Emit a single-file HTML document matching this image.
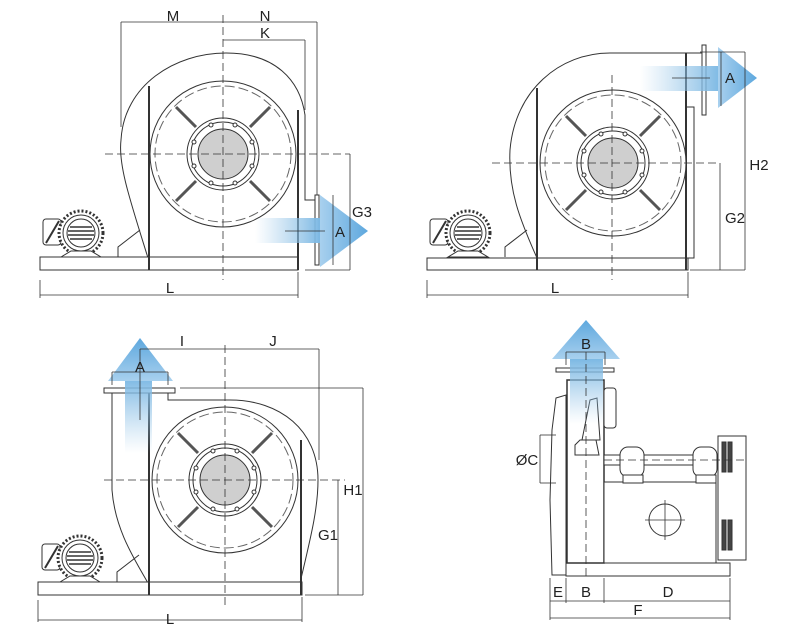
<!DOCTYPE html>
<html><head><style>
html,body{margin:0;padding:0;background:#fff;}
svg{display:block;font-family:"Liberation Sans",sans-serif;}
text{font-size:15px;fill:#222;text-anchor:middle;}
</style></head><body>
<svg width="788" height="636" viewBox="0 0 788 636" xmlns="http://www.w3.org/2000/svg">
<defs>
<linearGradient id="gh" x1="0" x2="1" y1="0" y2="0"><stop offset="0" stop-color="#9cc8e8" stop-opacity="0"/><stop offset="1" stop-color="#7db9e4"/></linearGradient>
<linearGradient id="gv" x1="0" x2="0" y1="1" y2="0"><stop offset="0" stop-color="#9cc8e8" stop-opacity="0"/><stop offset="1" stop-color="#7db9e4"/></linearGradient>
<linearGradient id="ah" x1="0" x2="1" y1="0" y2="0"><stop offset="0" stop-color="#a8d0ee"/><stop offset="1" stop-color="#5ea8de"/></linearGradient>
<linearGradient id="av" x1="0" x2="0" y1="1" y2="0"><stop offset="0" stop-color="#a8d0ee"/><stop offset="1" stop-color="#5ea8de"/></linearGradient>
<g id="imp" fill="none" stroke="#333" stroke-width="1">
<circle r="73" fill="#fff"/>
<circle r="68" stroke-dasharray="10,4" stroke="#666"/>
<g stroke="#555" stroke-width="3"><line x1="-27" y1="-27" x2="-47" y2="-47"/><line x1="27" y1="-27" x2="47" y2="-47"/><line x1="-27" y1="27" x2="-47" y2="47"/><line x1="27" y1="27" x2="47" y2="47"/></g>
<circle r="36" fill="#fff"/>
<circle r="32"/>
<circle r="25" fill="#cfcfcf"/>
<g fill="#fff"><circle cx="12" cy="-29" r="2"/><circle cx="-12" cy="-29" r="2"/><circle cx="12" cy="29" r="2"/><circle cx="-12" cy="29" r="2"/><circle cx="29" cy="12" r="2"/><circle cx="29" cy="-12" r="2"/><circle cx="-29" cy="12" r="2"/><circle cx="-29" cy="-12" r="2"/></g>
</g>
<g id="motor" fill="#fff" stroke="#333" stroke-width="1">
<rect x="0" y="-14" width="18" height="26" rx="3"/>
<line x1="3" y1="10" x2="16" y2="-12" stroke-width="2"/>
<circle cx="38" cy="0" r="22" stroke-dasharray="2,2" stroke-width="3"/>
<circle cx="38" cy="0" r="18"/>
<circle cx="38" cy="0" r="14"/>
<g stroke-width="1.5"><line x1="27" y1="-6" x2="49" y2="-6"/><line x1="25" y1="-2" x2="51" y2="-2"/><line x1="25" y1="2" x2="51" y2="2"/><line x1="27" y1="6" x2="49" y2="6"/></g>
<path d="M18,24 L28,18 L48,18 L58,24 Z"/>
</g>
</defs>

<g fill="none" stroke="#333" stroke-width="1">
<path d="M148,258 C130,200 118,165 121,140 C124,85 175,53 226,53 C275,53 300,80 305,115 L305,200 L315,200" fill="#fff"/>
<rect x="40" y="257" width="258" height="13" fill="#fff"/>
<line x1="149" y1="86" x2="149" y2="270" stroke-width="2"/>
<line x1="298" y1="110" x2="298" y2="270" stroke-width="2"/>
<path d="M118,257 L118,247 L140,230"/>
<rect x="315" y="195" width="4" height="70" fill="#fff"/>
</g>
<use href="#imp" x="223" y="154"/>
<use href="#motor" x="43" y="233"/>
<rect x="255" y="218" width="65" height="25" fill="url(#gh)"/>
<polygon points="320,195 368,231 320,267" fill="url(#ah)"/>
<g stroke="#333" stroke-width="0.8" fill="none">
<line x1="223" y1="15" x2="223" y2="280" stroke-dasharray="8,4"/>
<line x1="105" y1="154" x2="350" y2="154" stroke-dasharray="8,4"/>
<line x1="121" y1="22" x2="317" y2="22"/><line x1="121" y1="22" x2="121" y2="127"/>
<line x1="223" y1="40" x2="305" y2="40"/><line x1="305" y1="40" x2="305" y2="110"/>
<line x1="317" y1="22" x2="317" y2="195"/>
<line x1="350" y1="154" x2="350" y2="270"/><line x1="305" y1="270" x2="350" y2="270"/>
<line x1="333" y1="195" x2="333" y2="265"/>
<line x1="40" y1="295" x2="298" y2="295"/><line x1="40" y1="280" x2="40" y2="298"/><line x1="298" y1="272" x2="298" y2="298"/>
<line x1="285" y1="231" x2="325" y2="231"/>
</g>
<text x="173" y="21">M</text><text x="265" y="21">N</text><text x="265" y="38">K</text>
<text x="362" y="217">G3</text><text x="340" y="237">A</text><text x="170" y="293">L</text>

<g fill="none" stroke="#333" stroke-width="1">
<path d="M537,258 C520,220 508,190 510,150 C515,90 560,53 610,53 L686,53 L686,258" fill="#fff"/>
<path d="M686,53 L702,53 M686,107 L694,107 L694,258 L686,258"/>
<rect x="427" y="258" width="261" height="12" fill="#fff"/>
<line x1="537" y1="88" x2="537" y2="270" stroke-width="2"/>
<line x1="686" y1="53" x2="686" y2="270" stroke-width="2"/>
<path d="M505,257 L505,247 L527,230"/>
<rect x="702" y="45" width="4" height="70" fill="#fff"/>
</g>
<use href="#imp" x="613" y="163"/>
<use href="#motor" x="430" y="233"/>
<rect x="640" y="66" width="80" height="25" fill="url(#gh)"/>
<polygon points="718,47 757,78 718,108" fill="url(#ah)"/>
<g stroke="#333" stroke-width="0.8" fill="none">
<line x1="612" y1="75" x2="612" y2="280" stroke-dasharray="8,4"/>
<line x1="492" y1="163" x2="720" y2="163" stroke-dasharray="8,4"/>
<line x1="745" y1="52" x2="745" y2="270"/><line x1="700" y1="52" x2="745" y2="52"/>
<line x1="720" y1="163" x2="720" y2="270"/><line x1="690" y1="270" x2="745" y2="270"/>
<line x1="721" y1="52" x2="721" y2="106"/>
<line x1="427" y1="295" x2="688" y2="295"/><line x1="427" y1="280" x2="427" y2="298"/><line x1="688" y1="272" x2="688" y2="298"/>
<line x1="672" y1="78" x2="710" y2="78"/>
</g>
<text x="730" y="83">A</text><text x="759" y="170">H2</text><text x="735" y="223">G2</text><text x="555" y="293">L</text>

<g fill="none" stroke="#333" stroke-width="1">
<path d="M112,392 L112,490 C115,530 135,560 148,583 L300,583 C310,540 318,510 318,480 C318,430 280,400 230,400 L168,400 L168,392" fill="#fff"/>
<rect x="38" y="582" width="264" height="13" fill="#fff"/>
<line x1="149" y1="392" x2="149" y2="595" stroke-width="2"/>
<line x1="301" y1="440" x2="301" y2="595" stroke-width="2"/>
<path d="M117,582 L117,572 L139,555"/>
<rect x="104" y="388" width="71" height="5" fill="#fff"/>
</g>
<use href="#imp" x="225" y="480"/>
<use href="#motor" x="42" y="558"/>
<rect x="125" y="378" width="27" height="75" fill="url(#gv)"/>
<polygon points="108,381 140,338 173,381" fill="url(#av)"/>
<g stroke="#333" stroke-width="0.8" fill="none">
<line x1="225" y1="345" x2="225" y2="605" stroke-dasharray="8,4"/>
<line x1="104" y1="480" x2="345" y2="480" stroke-dasharray="8,4"/>
<line x1="140" y1="349" x2="319" y2="349"/><line x1="319" y1="349" x2="319" y2="460"/>
<line x1="140" y1="349" x2="140" y2="420"/>
<line x1="112" y1="372" x2="168" y2="372"/><line x1="112" y1="372" x2="112" y2="385"/><line x1="168" y1="372" x2="168" y2="385"/>
<line x1="180" y1="388" x2="363" y2="388"/><line x1="363" y1="388" x2="363" y2="595"/>
<line x1="338" y1="480" x2="338" y2="595"/><line x1="305" y1="595" x2="363" y2="595"/>
<line x1="38" y1="620" x2="302" y2="620"/><line x1="38" y1="600" x2="38" y2="622"/><line x1="302" y1="597" x2="302" y2="622"/>
</g>
<text x="182" y="346">I</text><text x="273" y="346">J</text><text x="140" y="372">A</text>
<text x="353" y="495">H1</text><text x="328" y="540">G1</text><text x="170" y="624">L</text>

<g fill="none" stroke="#333" stroke-width="1">
<rect x="566" y="563" width="164" height="13" fill="#fff"/>
<path d="M556,398 L566,395 L566,575 L552,575 L550,500 L552,430 Z" fill="#fff"/>
<rect x="567" y="380" width="37" height="183" fill="#fff" stroke-width="1.5"/>
<rect x="604" y="482" width="112" height="81" fill="#fff"/>
<rect x="718" y="436" width="28" height="124" fill="#fff"/>
<rect x="604" y="455" width="114" height="10" fill="#fff"/>
<rect x="604" y="388" width="12" height="40" rx="3" fill="#fff"/>
<path d="M590,400 L597,398 L600,440 L582,440 Z" fill="#fff"/>
<path d="M580,440 L596,440 L599,455 L575,455 L575,445 Z" fill="#fff"/>
<g fill="#fff"><rect x="620" y="447" width="24" height="30" rx="8"/><rect x="693" y="447" width="24" height="30" rx="8"/>
<rect x="623" y="475" width="20" height="8"/><rect x="696" y="475" width="20" height="8"/></g>
<g fill="#444"><rect x="722" y="442" width="4" height="30"/><rect x="728" y="442" width="4" height="30"/><rect x="722" y="520" width="4" height="30"/><rect x="728" y="520" width="4" height="30"/></g>
<circle cx="665" cy="520" r="16"/>
<rect x="556" y="368" width="58" height="4" fill="#fff"/>
</g>
<rect x="570" y="359" width="33" height="65" fill="url(#gv)"/>
<polygon points="552,359 586,320 620,359" fill="url(#av)"/>
<g stroke="#333" stroke-width="0.8" fill="none">
<line x1="586" y1="352" x2="586" y2="580" stroke-dasharray="8,4"/>
<line x1="604" y1="460" x2="746" y2="460" stroke-dasharray="8,4"/>
<line x1="645" y1="520" x2="685" y2="520"/><line x1="665" y1="500" x2="665" y2="540"/>
<line x1="566" y1="352" x2="605" y2="352"/><line x1="566" y1="352" x2="566" y2="365"/><line x1="605" y1="352" x2="605" y2="365"/>
<line x1="540" y1="435" x2="540" y2="483"/><line x1="540" y1="435" x2="556" y2="435"/><line x1="540" y1="483" x2="556" y2="483"/>
<line x1="550" y1="578" x2="550" y2="620"/><line x1="566" y1="578" x2="566" y2="603"/><line x1="604" y1="578" x2="604" y2="603"/><line x1="730" y1="578" x2="730" y2="620"/>
<line x1="550" y1="601" x2="730" y2="601"/><line x1="550" y1="618" x2="730" y2="618"/>
</g>
<text x="586" y="349">B</text><text x="527" y="465">ØC</text>
<text x="558" y="597">E</text><text x="586" y="597">B</text><text x="668" y="597">D</text><text x="638" y="615">F</text>
</svg>
</body></html>
